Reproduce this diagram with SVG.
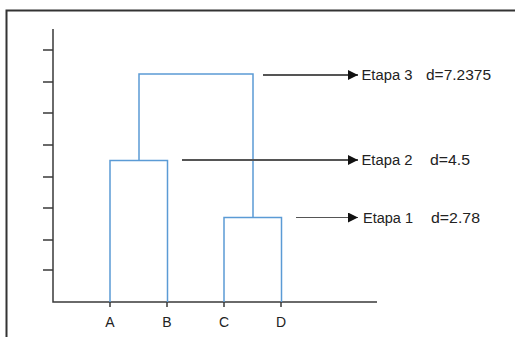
<svg xmlns="http://www.w3.org/2000/svg" width="515" height="337" viewBox="0 0 515 337">
<style>
.axis{stroke:#3a3a3a;stroke-width:1.5;fill:none}
.dend{stroke:#5B9BD5;stroke-width:1.5;fill:none}
.arr{stroke:#555;fill:none}
text{font-family:"Liberation Sans",Arial,sans-serif;fill:#222}
.lab{font-size:14px}
.leaf{font-size:14px;text-anchor:middle}
</style>
<defs>
<marker id="ah" viewBox="0 0 10 10" refX="10" refY="5" markerWidth="10" markerHeight="10" markerUnits="userSpaceOnUse" orient="auto">
<path d="M0,0 L10,5 L0,10 z" fill="#111"/>
</marker>
</defs>
<rect x="0" y="0" width="515" height="337" fill="#fff"/>
<path d="M6.5,340 V10.5 H520" fill="none" stroke="#333" stroke-width="2"/>
<g id="axes">
<path class="axis" d="M53,29 V302 H377"/>
<path class="axis" d="M43,50 H53 M43,82 H53 M43,113 H53 M43,145 H53 M43,177 H53 M43,208 H53 M43,240 H53 M43,270 H53"/>
<path class="axis" d="M110,302 V307 M167,302 V307 M224,302 V307 M281,302 V307"/>
</g>
<g id="dendrogram">
<path class="dend" d="M110,302 V160.5 H167.5 V302"/>
<path class="dend" d="M224,302 V217.5 H281.5 V302"/>
<path class="dend" d="M139,160.5 V74 H253 V217.5"/>
</g>
<g id="connectors">
<line class="arr" x1="263" y1="75" x2="358" y2="75" stroke-width="2" marker-end="url(#ah)"/>
<line class="arr" x1="182" y1="160" x2="358" y2="160" stroke-width="2" marker-end="url(#ah)"/>
<line class="arr" x1="296" y1="217.5" x2="358" y2="217.5" stroke-width="1" marker-end="url(#ah)"/>
</g>
<g id="etapa3"><text class="lab" x="361.5" y="80" textLength="51" lengthAdjust="spacingAndGlyphs">Etapa 3</text><text class="lab" x="426" y="80" textLength="65" lengthAdjust="spacingAndGlyphs">d=7.2375</text></g>
<g id="etapa2"><text class="lab" x="361.5" y="165" textLength="51" lengthAdjust="spacingAndGlyphs">Etapa 2</text><text class="lab" x="430" y="165" textLength="40" lengthAdjust="spacingAndGlyphs">d=4.5</text></g>
<g id="etapa1"><text class="lab" x="363" y="222.5" textLength="50" lengthAdjust="spacingAndGlyphs">Etapa 1</text><text class="lab" x="431" y="222.5" textLength="49" lengthAdjust="spacingAndGlyphs">d=2.78</text></g>
<g id="leaves">
<text class="leaf" x="110" y="327">A</text>
<text class="leaf" x="167" y="327">B</text>
<text class="leaf" x="224" y="327">C</text>
<text class="leaf" x="281" y="327">D</text>
</g>
</svg>
